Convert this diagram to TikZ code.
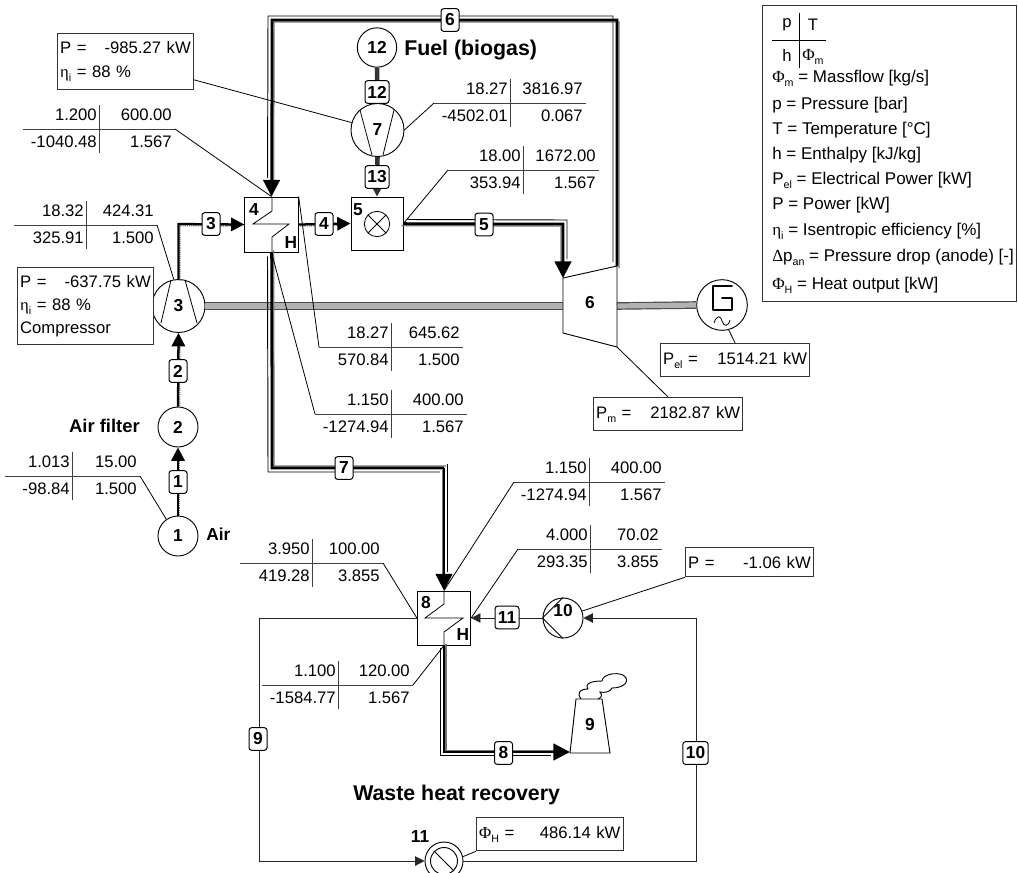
\documentclass[tikz,border=0pt]{standalone}
\usepackage{fontspec}
\setmainfont{Liberation Sans}
\newfontfamily\greekf{Liberation Serif}
\usetikzlibrary{arrows.meta,calc}

\newcommand{\subsf}[1]{\raisebox{-.45ex}{\fontsize{8}{8}\selectfont #1}}
\newcommand{\gaspipe}[3]{%
  \draw[gasthin, transform canvas={shift={(#1,#2)}}] #3;
  \draw[gasgray, transform canvas={shift={(-0.5*#1,-0.5*#2)}}] #3;
  \draw[gasdark] #3;}
\newcommand{\gasarrow}[3]{%
  \draw[gasthin, shorten >=11pt, transform canvas={shift={(#1,#2)}}] #3;
  \draw[gasgray, shorten >=11pt, transform canvas={shift={(-0.5*#1,-0.5*#2)}}] #3;
  \draw[gasdark, -{Triangle[length=12.5pt, width=12.5pt]}] #3;}
\newcommand{\airpipe}[1]{%
  \draw[airdot, shorten >=8pt, transform canvas={shift={(1.5,1.5)}}] #1;
  \draw[airdark, ->] #1;}

\begin{document}
\begin{tikzpicture}[x=0.75pt, y=-0.75pt,
    every node/.style={font=\fontsize{12.5}{17.5}\selectfont},
    comp/.style={circle, draw, inner sep=0pt, line width=0.7pt, fill=white, font=\fontsize{13}{14}\selectfont\bfseries},
    unit/.style={rectangle, draw, inner sep=0pt, line width=0.7pt, fill=white},
    stream/.style={rectangle, draw, rounded corners=2pt, inner sep=0pt, line width=0.75pt, fill=white,
      minimum height=17pt, minimum width=13.5pt, font=\fontsize{13}{14}\selectfont\bfseries},
    tag/.style={font=\fontsize{13}{14}\selectfont\bfseries, inner sep=0pt},
    title/.style={font=\fontsize{16}{18}\selectfont\bfseries, inner sep=0pt},
    val/.style={inner sep=0pt},
    infobox/.style={rectangle, draw=black!80, line width=0.7pt, anchor=north west, inner xsep=2pt, inner ysep=2pt, align=left},
    legend/.style={anchor=west, inner sep=0pt, font=\fontsize{12.75}{17.5}\selectfont},
    leader/.style={draw, line width=0.6pt},
    tabline/.style={draw=black!75, line width=0.7pt},
    gasdark/.style={draw=black, line width=1.9pt, line join=miter},
    gasthin/.style={draw=black, line width=0.7pt},
    gasgray/.style={draw=black!55, line width=1.1pt},
    airdark/.style={draw=black, line width=1.7pt},
    airdot/.style={draw=black!55, line width=1.1pt, dash pattern=on 0.8pt off 0.8pt},
    fuel/.style={draw=black!80, line width=3.4pt},
    water/.style={draw=black!85, line width=0.7pt},
    shaft/.style={draw=black!70, line width=0.9pt, double=black!30, double distance=3.9pt},
    >={Triangle[length=10pt, width=10pt]}]
  \useasboundingbox (0,0) rectangle (1018,872);

  % components
  \node[comp, minimum size=29.5pt] (c12) at (377,47.5) {12};
  \node[comp, minimum size=39.75pt] (c7) at (377.5,130) {7};
  \node[comp, minimum size=39.75pt] (c3) at (178.5,306) {3};
  \node[comp, minimum size=30pt] (c2) at (178,427) {2};
  \node[comp, minimum size=30pt] (c1) at (178,536) {1};
  \node[comp, minimum size=38pt] (cgen) at (722,305) {};
  \node[comp, minimum size=30pt] (c10) at (563,618) {};
  \node[comp, minimum size=28.5pt] (c11) at (444,861) {};
  \node[unit, minimum width=40pt, minimum height=41.25pt] (c4) at (271.5,224.5) {};
  \node[unit, minimum width=39pt, minimum height=39.75pt] (c5) at (377,223.5) {};
  \node[unit, minimum width=40pt, minimum height=40.5pt] (c8) at (444,618) {};

  % shaft
  \coordinate (tw) at (563,306);
  \coordinate (te) at (617,306);
  \draw[shaft] (c3.east) -- (tw);
  \draw[shaft] (te) -- (cgen.west);

  % turbine and stack
  \coordinate (tnw) at (563,278);
  \coordinate (tne) at (617,266);
  \coordinate (tse) at (617,347);
  \coordinate (tsw) at (563,333);
  \draw[line width=0.7pt] (tnw) -- (tne) -- (tse) -- (tsw) -- cycle;
  \coordinate (snw) at (576,699);
  \coordinate (sne) at (602,699);
  \coordinate (sse) at (610,753);
  \coordinate (ssw) at (570,753);
  \draw[line width=0.7pt] (snw) -- (sne) -- (sse) -- (ssw) -- cycle;
  \draw[line width=0.7pt] (581,699) .. controls (576,692) and (581,689) .. (588,689)
        .. controls (584,683) and (593,681) .. (602,681)
        .. controls (603,674) and (616,672) .. (623,675)
        .. controls (631,680) and (625,688) .. (612,688)
        .. controls (610,692) and (605,693) .. (600,692)
        .. controls (603,695) and (601,698) .. (598,699);

  % gas pipes
  \coordinate (b6a) at (617,20);
  \coordinate (b6b) at (272,20);
  \coordinate (b5) at (563,224);
  \coordinate (b7a) at (272,468);
  \coordinate (b7b) at (444,468);
  \coordinate (b8) at (444,752);
  \coordinate (ssm) at (570,752);
  \gasarrow{-4}{-4}{(tne) -- (b6a) -- (b6b) -- (c4.north)}
  \gasarrow{4}{-4}{(c5.east) -- (b5) -- (tnw)}
  \gaspipe{-4}{4}{(c4.south) -- (b7a) -- (b7b)}
  \gasarrow{3}{-4}{(b7b) -- (c8.north)}
  \gasarrow{-4}{3}{(c8.south) -- (b8) -- (ssm)}

  % air pipes
  \coordinate (b3) at (178.5,224);
  \airpipe{(c1.north) -- (c2.south)}
  \airpipe{(c2.north) -- (c3.south)}
  \airpipe{(c3.north) -- (b3) -- (c4.west)}
  \airpipe{(c4.east) -- (c5.west)}

  % fuel pipes
  \draw[fuel] (c12.south) -- (c7.north);
  \draw[fuel, -{Triangle[length=6pt, width=6pt]}] (c7.south) -- (c5.north);

  % water loop
  \coordinate (b9a) at (259,618);
  \coordinate (b9b) at (259,861);
  \coordinate (b10a) at (696,861);
  \coordinate (b10b) at (696,618);
  \draw[water, -{Triangle[length=7pt, width=7pt]}] (c8.west) -- (b9a) -- (b9b) -- (c11.west);
  \draw[water, -{Triangle[length=7pt, width=7pt]}] (c11.east) -- (b10a) -- (b10b) -- (c10.east);
  \draw[water, -{Triangle[length=7pt, width=7pt]}] (c10.west) -- (c8.east);

  % symbols inside the components
  \draw[line width=0.6pt] (360,110) -- (372,155);
  \draw[line width=0.6pt] (394,110) -- (383,155);
  \draw[line width=0.6pt] (171,280) -- (161,323);
  \draw[line width=0.6pt] (185,280) -- (197,323);
  \draw[line width=0.6pt] (272,197) -- (272,211) -- (253,224) -- (289,224) -- (272,237) -- (272,252);
  \draw[line width=0.6pt] (444,591) -- (444,604) -- (425,618) -- (463,618) -- (444,632) -- (444,645);
  \node[circle, draw, inner sep=0pt, minimum size=19pt, line width=0.6pt] (cx) at (377,224) {};
  \draw[line width=0.6pt] (cx.45) -- (cx.225) (cx.135) -- (cx.315);
  \draw[line width=0.6pt] (c10.180) -- (c10.90) (c10.180) -- (c10.270);
  \node[circle, draw, inner sep=0pt, minimum size=20.25pt, line width=0.7pt] (cv) at (444,861) {};
  \draw[line width=0.7pt] (cv.135) -- (cv.315);
  \draw[line width=1.4pt, line cap=round, line join=round] (732,286) -- (713,286) -- (713,310) -- (732,310) -- (732,298) -- (722,298);
  \draw[line width=0.6pt] (714,323) .. controls (717,314) and (721,316) .. (722,321) .. controls (724,327) and (728,327) .. (730,320);

  % component labels
  \node[tag] (lb4) at (254,210) {4};
  \node[tag] (lbh4) at (291,243) {H};
  \node[tag] (lb5) at (358,210) {5};
  \node[tag] (lb6) at (590,303) {6};
  \node[tag] (lb8) at (426,603) {8};
  \node[tag] (lbh8) at (463,635) {H};
  \node[tag] (lb9) at (590,725) {9};
  \node[tag] (lb10) at (563,611) {10};
  \node[tag] (lb11) at (420,837) {11};
  \node[tag, anchor=west] (lbair) at (206,534) {Air};
  \node[tag, anchor=east, font=\fontsize{13.8}{14}\selectfont\bfseries] (lbfilter) at (140,426) {Air filter};
  \node[title, anchor=west] (lbfuel) at (404,50) {Fuel (biogas)};
  \node[title, anchor=west] (lbwaste) at (353,795) {Waste heat recovery};

  % stream numbers
  \node[stream] (s1) at (178,482) {1};
  \node[stream] (s2) at (178,371) {2};
  \node[stream] (s3) at (211,224) {3};
  \node[stream] (s4) at (324,224) {4};
  \node[stream] (s5) at (484,224.5) {5};
  \node[stream] (s6) at (450,20) {6};
  \node[stream] (s7) at (344,468) {7};
  \node[stream] (s8) at (503.5,753) {8};
  \node[stream] (s9) at (258,739) {9};
  \node[stream, minimum width=19pt] (s10) at (695.5,753) {10};
  \node[stream, minimum width=18pt] (s11) at (507,617.5) {11};
  \node[stream, minimum width=18pt] (s12) at (377,92) {12};
  \node[stream, minimum width=18pt] (s13) at (377,177) {13};

  % state tables
  \foreach \tid/\xl/\xv/\xr/\yh/\vp/\vt/\vh/\vm in {
      a/5/72/140/476/1.013/15.00/-98.84/1.500,
      b/14/86/157/225/18.32/424.31/325.91/1.500,
      c/23/99/175/129/1.200/600.00/-1040.48/1.567,
      d/434/510/586/103/18.27/3816.97/-4502.01/0.067,
      e/448/523/599/170/18.00/1672.00/353.94/1.567,
      f/319/391/463/347/18.27/645.62/570.84/1.500,
      g/315/391/467/414/1.150/400.00/-1274.94/1.567,
      h/514/589/665/482/1.150/400.00/-1274.94/1.567,
      i/518/590/662/549/4.000/70.02/293.35/3.855,
      j/240/312/383/563/3.950/100.00/419.28/3.855,
      k/262/338/413/685/1.100/120.00/-1584.77/1.567}{
    \coordinate (tab\tid l) at (\xl,\yh);
    \coordinate (tab\tid r) at (\xr,\yh);
    \draw[tabline] (tab\tid l) -- (tab\tid r);
    \draw[tabline] (\xv,\yh-24) -- (\xv,\yh+24);
    \node[val, anchor=east] (tab\tid p) at (\xv-2,\yh-14) {\vp};
    \node[val, anchor=east] (tab\tid t) at (\xr-3,\yh-14) {\vt};
    \node[val, anchor=east] (tab\tid h) at (\xv-2,\yh+13) {\vh};
    \node[val, anchor=east] (tab\tid m) at (\xr-3,\yh+13) {\vm};
  }
  \draw[leader] (tabar) -- (c1.125);
  \draw[leader] (tabbr) -- (c3.100);
  \draw[leader] (tabcr) -- (c4.north);
  \draw[leader] (tabdl) -- (c7.east);
  \draw[leader] (tabel) -- (c5.east);
  \draw[leader] (tabfl) -- (c4.north east);
  \draw[leader] (tabgl) -- (c4.south);
  \draw[leader] (tabhl) -- (c8.north);
  \draw[leader] (tabil) -- (c8.east);
  \draw[leader] (tabjr) -- (c8.west);
  \draw[leader] (tabkr) -- (c8.south);

  % power boxes
  \node[infobox, text width=98pt, minimum height=42pt] (bp7) at (57,33) {P =\hfill -985.27 kW\\{\greekf η}\subsf{i} = 88 \%};
  \node[infobox, text width=98pt, minimum height=58pt, fill=white] (bp3) at (17,267) {P =\hfill -637.75 kW\\{\greekf η}\subsf{i} = 88 \%\\Compressor};
  \node[infobox, text width=108pt, minimum height=25pt] (bpel) at (660,343) {P\subsf{el} =\hfill 1514.21 kW};
  \node[infobox, text width=108pt, minimum height=25pt] (bpm) at (593,397) {P\subsf{m} =\hfill 2182.87 kW};
  \node[infobox, text width=92pt, minimum height=22pt] (bp10) at (685,547) {P =\hfill -1.06 kW};
  \node[infobox, text width=106pt, minimum height=25pt] (bph) at (476,817) {{\greekf Φ}\subsf{H} =\hfill 486.14 kW};
  \draw[leader] (bp7.345) -- (c7.164);
  \draw[leader] (cgen.285) -- (bpel.north);
  \draw[leader] (tse) -- (bpm.north);
  \draw[leader] (bp10.south west) -- (c10.20);
  \draw[leader] (bph.south west) -- (c11.13);

  % legend
  \node[rectangle, draw=black!80, line width=0.7pt, minimum width=190.5pt, minimum height=222pt, anchor=north west, inner sep=0pt] (lgbox) at (762,5) {};
  \draw[line width=0.7pt] (799,13) -- (799,68);
  \draw[line width=0.7pt] (772,40) -- (826,40);
  \node[val] (lgp) at (787,25) {p};
  \node[val] (lgt) at (813,25) {T};
  \node[val] (lgh) at (787,55) {h};
  \node[legend] (lgm) at (802,57) {{\greekf Φ}\subsf{m}};
  \node[legend] (lg1) at (772,78) {{\greekf Φ}\subsf{m} = Massflow [kg/s]};
  \node[legend] (lg2) at (772,105) {p = Pressure [bar]};
  \node[legend] (lg3) at (772,130) {T = Temperature [°C]};
  \node[legend] (lg4) at (772,155) {h = Enthalpy [kJ/kg]};
  \node[legend] (lg5) at (772,180) {P\subsf{el} = Electrical Power [kW]};
  \node[legend] (lg6) at (772,205) {P = Power [kW]};
  \node[legend] (lg7) at (772,231) {{\greekf η}\subsf{i} = Isentropic efficiency [\%]};
  \node[legend] (lg8) at (772,257) {{\greekf Δ}p\subsf{an} = Pressure drop (anode) [-]};
  \node[legend] (lg9) at (772,285) {{\greekf Φ}\subsf{H} = Heat output [kW]};
\end{tikzpicture}
\end{document}
